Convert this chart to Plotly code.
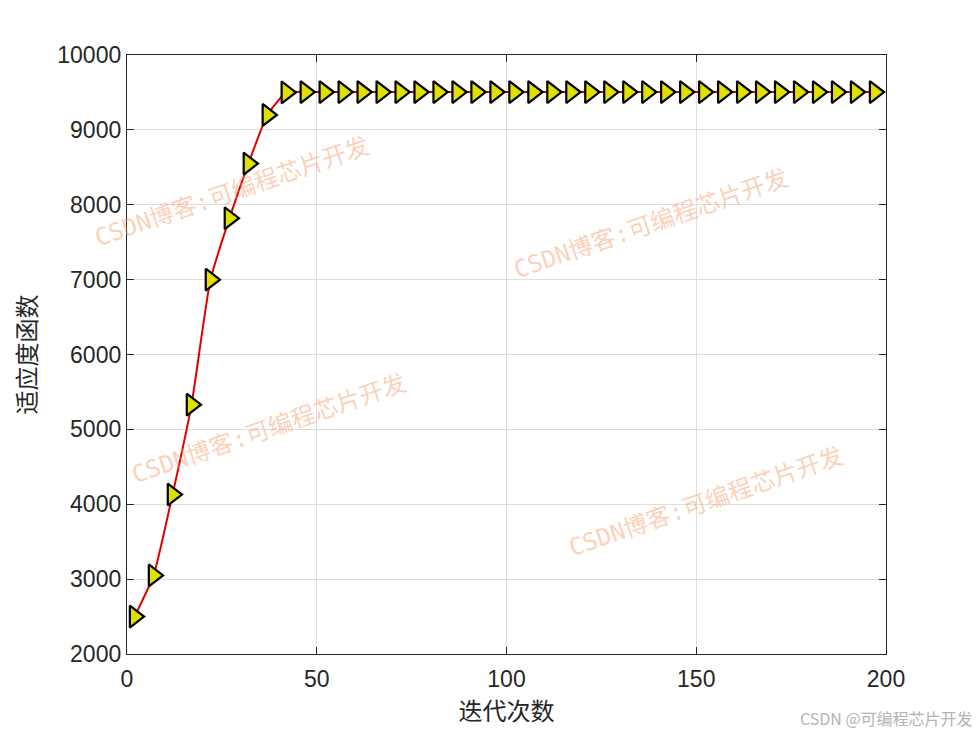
import plotly.graph_objects as go

iterations = [2, 7, 12, 17, 22, 27, 32, 37, 42, 47, 52, 57, 62, 67, 72, 77, 82, 87, 92, 97,
              102, 107, 112, 117, 122, 127, 132, 137, 142, 147, 152, 157, 162, 167, 172, 177, 182, 187, 192, 197]
fitness = [2500, 3050, 4130, 5330, 7000, 7820, 8550, 9200, 9500, 9505,
           9505, 9505, 9505, 9505, 9505, 9505, 9505, 9505, 9505, 9505,
           9505, 9505, 9505, 9505, 9505, 9505, 9505, 9505, 9505, 9505,
           9505, 9505, 9505, 9505, 9505, 9505, 9505, 9505, 9505, 9505]

x_ticks = [0, 50, 100, 150, 200]
y_ticks = [2000, 3000, 4000, 5000, 6000, 7000, 8000, 9000, 10000]

x_title = "迭代次数"
y_title = "适应度函数"
watermark = "CSDN博客:可编程芯片开发"
footer = "CSDN @可编程芯片开发"

# page body has an 8px offset; plot area target in page pixels: x 127..886, y 55..654
OFF = 8
L, R, T, B = 127 - OFF, 980 - (886 - OFF), 55 - OFF, 735 - (654 - OFF)

fig = go.Figure()
fig.add_trace(go.Scatter(
    x=iterations, y=fitness, mode="lines+markers",
    line=dict(color="#e00000", width=2, shape="spline", smoothing=0.5),
    marker=dict(symbol="triangle-right", size=19, color="#e0e000",
                line=dict(color="black", width=2.2)),
    showlegend=False, cliponaxis=False,
))

axis_common = dict(
    showline=True, linecolor="#262626", linewidth=1.3, mirror="ticks",
    ticks="inside", ticklen=7, tickwidth=1.3, tickcolor="#262626",
    showgrid=True, gridcolor="#dedede", gridwidth=1, zeroline=False,
    tickfont=dict(family="Liberation Sans, Arial", size=23, color="#262626"),
)

fig.update_xaxes(range=[0, 200], tickvals=x_ticks, ticktext=[str(v) for v in x_ticks],
                 ticklabelstandoff=4,
                 title=dict(text=x_title, font=dict(family="Noto Sans CJK SC", size=24, color="#262626"), standoff=10),
                 **axis_common)
fig.update_yaxes(range=[2000, 10000], tickvals=y_ticks, ticktext=[str(v) for v in y_ticks],
                 title=dict(text=y_title, font=dict(family="Noto Sans CJK SC", size=24, color="#262626"), standoff=14),
                 **axis_common)

def px_to_paper(px, py):
    return (px - 127) / (886 - 127), (654 - py) / (654 - 55)

wm_positions = [(232, 192), (651, 224), (269, 429), (706, 502)]
for (px, py) in wm_positions:
    xp, yp = px_to_paper(px, py)
    fig.add_annotation(
        text=watermark, xref="paper", yref="paper", x=xp, y=yp,
        showarrow=False, textangle=-19,
        font=dict(family="DejaVu Sans Mono, Noto Sans CJK SC", size=24, color="rgba(245,150,95,0.45)"),
        xanchor="center", yanchor="middle",
    )

fx, fy = px_to_paper(975, 718)
fig.add_annotation(
    text=footer, xref="paper", yref="paper", x=fx, y=fy,
    showarrow=False, xanchor="right", yanchor="middle",
    font=dict(family="Noto Sans CJK SC", size=16, color="#b4b4b4"),
)

fig.update_layout(
    width=980, height=735,
    margin=dict(l=L, r=R, t=T, b=B),
    paper_bgcolor="white", plot_bgcolor="white",
)

fig.write_html("out.html")
